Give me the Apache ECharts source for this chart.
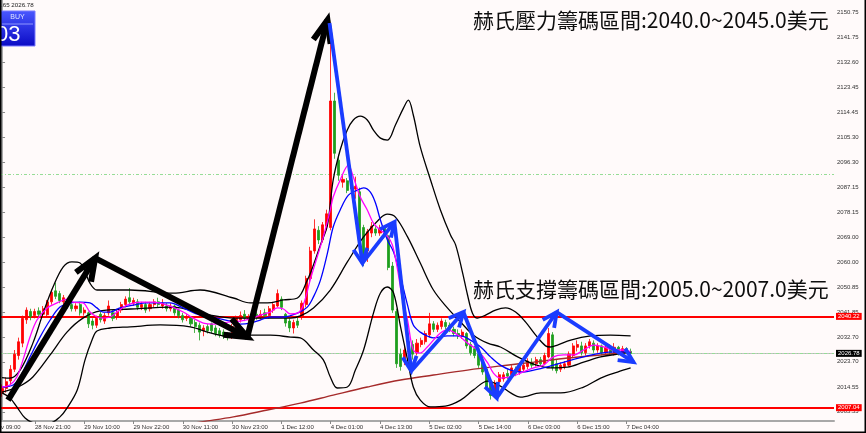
<!DOCTYPE html>
<html>
<head>
<meta charset="utf-8">
<script src="https://cdn.jsdelivr.net/npm/echarts@6/dist/echarts.min.js"></script>
<style>
html,body{margin:0;padding:0;background:#fffafa;}
#chart{width:866px;height:433px;}
</style>
</head>
<body>
<div id="chart"></div>
<script>
// ---- Data ----
const tickLabels = ["28 Nov 21:00","29 Nov 10:00","29 Nov 22:00","30 Nov 11:00","30 Nov 23:00","1 Dec 12:00","4 Dec 01:00","4 Dec 13:00","5 Dec 02:00","5 Dec 14:00","6 Dec 03:00","6 Dec 15:00","7 Dec 04:00"];
const firstTickSlot = 8, tickStep = 12, slotCount = 203;
const priceTicks = [2150.75,2141.75,2132.60,2123.45,2114.45,2105.30,2096.30,2087.15,2078.15,2069.00,2060.00,2050.85,2041.85,2032.70,2023.70,2014.55,2005.55];
const priceMin = 2002.2, priceMax = 2155.2;

// candles: [open, close, low, high]
const candles = [
[2012.5,2014.0,2011.0,2015.5],[2014.0,2016.5,2012.5,2018.0],[2016.8,2021.0,2015.5,2022.5],[2021.0,2026.5,2020.0,2028.0],
[2026.0,2031.0,2024.5,2032.5],[2030.5,2039.5,2029.0,2040.5],[2039.0,2042.5,2037.5,2043.5],[2042.0,2040.2,2038.8,2043.0],
[2040.5,2042.0,2039.5,2043.0],[2042.2,2041.0,2040.0,2043.5],[2041.0,2043.0,2040.0,2044.0],[2040.8,2045.5,2040.0,2046.2],
[2045.5,2049.0,2044.5,2050.0],[2049.5,2047.5,2046.5,2052.5],[2048.5,2046.0,2045.0,2049.5],[2045.5,2047.0,2044.5,2048.0],
[2045.5,2044.0,2043.0,2046.5],[2044.5,2043.0,2042.0,2045.5],[2043.0,2044.0,2042.0,2045.0],[2044.5,2041.5,2040.5,2045.5],
[2041.5,2042.5,2040.5,2043.5],[2041.5,2037.5,2036.0,2042.0],[2038.5,2037.0,2035.5,2039.5],[2037.0,2039.5,2036.0,2040.5],
[2041.0,2039.0,2038.0,2042.0],[2038.5,2040.5,2037.5,2041.5],[2041.5,2044.0,2040.5,2046.0],[2041.5,2039.5,2038.5,2042.5],
[2040.0,2042.0,2039.0,2043.0],[2042.5,2044.5,2041.5,2045.5],[2044.5,2046.5,2043.5,2047.5],[2047.0,2045.5,2044.5,2050.5],
[2045.0,2046.0,2044.0,2047.0],[2045.5,2043.5,2042.5,2046.5],[2043.5,2044.5,2042.5,2045.5],[2044.5,2042.5,2041.5,2045.5],
[2043.0,2044.5,2042.0,2045.5],[2044.5,2045.5,2043.5,2046.5],[2045.5,2044.5,2043.5,2047.0],[2044.0,2045.0,2043.0,2046.5],
[2044.0,2043.0,2042.0,2045.0],[2043.0,2044.0,2042.0,2045.0],[2044.0,2041.5,2040.5,2044.5],[2042.5,2040.5,2039.5,2043.0],
[2040.5,2039.0,2038.0,2041.5],[2039.5,2040.0,2038.5,2041.0],[2039.5,2037.5,2036.5,2040.0],[2038.0,2036.5,2034.2,2039.0],
[2037.0,2034.5,2031.5,2038.0],[2035.0,2036.0,2033.0,2037.0],[2036.5,2035.0,2034.0,2037.5],[2037.5,2035.0,2034.0,2038.0],
[2036.0,2034.0,2033.0,2037.0],[2035.0,2033.5,2032.5,2036.0],[2034.5,2033.0,2032.0,2035.5],[2033.5,2032.5,2031.5,2034.5],
[2033.0,2036.5,2032.0,2037.5],[2036.0,2039.5,2035.5,2040.5],[2039.0,2040.5,2038.0,2042.0],[2041.0,2039.5,2038.5,2042.5],
[2039.0,2040.0,2038.0,2041.0],[2039.5,2040.5,2038.5,2041.5],[2041.0,2040.0,2039.0,2042.0],[2040.0,2041.0,2039.0,2042.5],
[2041.5,2040.5,2039.5,2043.0],[2040.5,2043.0,2039.5,2044.0],[2042.5,2044.5,2041.5,2045.5],[2044.0,2048.5,2043.5,2050.0],
[2046.5,2043.5,2042.5,2047.5],[2041.0,2037.8,2036.5,2041.5],[2038.5,2036.0,2034.5,2039.5],[2036.0,2038.0,2034.0,2039.0],
[2038.5,2037.0,2036.0,2040.0],[2040.0,2045.0,2039.0,2046.0],[2044.5,2054.0,2043.5,2055.0],[2054.0,2064.0,2052.5,2065.5],
[2064.0,2072.0,2063.0,2075.5],[2071.5,2068.0,2066.5,2073.0],[2068.0,2073.5,2067.0,2074.5],[2073.0,2077.5,2071.5,2079.0],
[2072.5,2118.5,2071.5,2147.0],[2118.5,2099.5,2097.5,2121.5],[2097.0,2091.5,2089.5,2099.0],[2089.0,2090.0,2087.0,2092.0],
[2089.5,2086.0,2085.0,2090.5],[2088.0,2086.5,2085.0,2089.5],[2086.5,2087.5,2083.0,2091.0],[2085.5,2068.0,2066.5,2087.0],
[2072.5,2060.0,2058.5,2073.5],[2064.0,2071.0,2060.0,2072.0],[2070.5,2073.0,2069.0,2074.5],[2072.0,2070.5,2069.5,2073.0],
[2070.5,2072.0,2069.5,2073.5],[2072.5,2069.5,2068.5,2073.0],[2069.5,2058.0,2057.0,2070.0],[2058.5,2042.5,2041.5,2060.0],
[2042.0,2023.0,2021.5,2043.0],[2026.5,2022.0,2020.5,2028.5],[2024.0,2028.0,2022.5,2029.5],[2027.5,2031.0,2026.5,2032.5],
[2030.0,2026.5,2024.5,2031.5],[2027.0,2030.5,2026.0,2032.0],[2030.0,2031.5,2029.0,2032.5],[2031.0,2034.0,2030.0,2035.0],
[2033.5,2037.5,2032.5,2041.5],[2037.5,2035.5,2034.5,2038.5],[2035.5,2037.0,2034.5,2038.0],[2036.5,2038.5,2035.5,2039.5],
[2038.0,2036.5,2035.5,2039.0],[2037.0,2035.5,2034.5,2038.0],[2035.5,2034.0,2033.0,2036.5],[2034.0,2033.0,2032.0,2035.5],
[2033.0,2034.5,2032.0,2035.5],[2034.0,2029.5,2028.5,2034.5],[2030.0,2027.0,2026.0,2031.0],[2028.5,2026.0,2025.0,2029.5],
[2026.5,2022.5,2021.5,2027.5],[2023.5,2020.0,2019.0,2024.5],[2021.0,2014.5,2013.5,2022.0],[2016.0,2011.5,2010.0,2017.0],
[2012.5,2016.0,2011.0,2017.0],[2016.5,2019.0,2015.5,2020.0],[2017.5,2019.0,2016.5,2020.0],[2019.5,2018.5,2017.5,2021.0],
[2019.0,2021.5,2018.5,2022.5],[2021.0,2019.5,2018.5,2022.0],[2020.0,2022.5,2019.0,2023.5],[2021.0,2022.5,2020.0,2023.5],
[2022.0,2024.0,2021.0,2025.0],[2023.5,2022.5,2021.5,2025.0],[2023.0,2024.5,2022.0,2025.5],[2024.5,2023.0,2022.0,2025.5],
[2023.0,2026.0,2022.5,2027.0],[2025.5,2034.0,2025.0,2036.0],[2033.5,2021.5,2020.5,2034.5],[2023.0,2020.5,2019.5,2024.5],
[2021.0,2022.5,2020.0,2023.5],[2022.0,2023.0,2021.0,2024.0],[2022.5,2026.5,2022.0,2027.5],[2026.0,2029.5,2025.0,2030.5],
[2029.0,2030.0,2027.5,2031.5],[2029.5,2027.0,2026.0,2031.0],[2027.0,2029.5,2026.0,2030.5],[2029.5,2031.0,2028.5,2032.0],
[2030.5,2028.0,2027.0,2031.5],[2028.0,2029.5,2027.0,2030.5],[2029.5,2027.0,2026.0,2030.0],[2027.0,2029.0,2026.0,2030.0],
[2029.0,2027.0,2026.0,2030.0],[2027.0,2029.0,2026.0,2030.5],[2029.0,2027.0,2026.0,2029.5],[2027.0,2028.5,2026.0,2029.5],
[2028.5,2027.5,2026.5,2029.0],[2027.5,2026.78,2026.0,2028.5]
];

// indicator lines: [bar position, price]
const bbUpper = [[0,2018.0],[1.9,2017.8],[4.4,2020.7],[7.5,2030.5],[10.0,2041.4],[12.4,2050.9],[14.9,2058.2],[17.0,2060.0],[19.0,2059.6],[21.4,2052.3],[23.1,2049.8],[31.2,2049.8],[41.7,2048.7],[48.2,2049.8],[56.3,2046.9],[60.4,2045.1],[64.6,2045.1],[68.5,2046.2],[71.9,2046.9],[74.3,2053.4],[75.8,2058.9],[77.5,2066.2],[79.2,2073.4],[80.6,2089.8],[82.3,2100.7],[84.0,2107.9],[85.5,2111.6],[87.2,2113.0],[88.9,2111.6],[90.4,2107.9],[92.1,2105.0],[93.8,2104.3],[95.75,2109.8],[97.7,2115.9],[98.9,2118.8],[100.1,2113.4],[101.8,2101.8],[104.3,2089.8],[106.7,2078.9],[109.15,2069.8],[110.4,2066.2],[112.1,2056.0],[113.3,2048.0],[114.5,2041.4],[115.7,2039.6],[117.7,2040.7],[120.1,2042.5],[122.55,2043.3],[125.0,2041.8],[127.4,2038.2],[129.9,2033.4],[132.3,2029.5],[133.5,2029.1],[135.2,2029.8],[138.4,2031.6],[143.3,2033.1],[148.1,2033.4],[153.0,2033.1]];
const bbMiddle = [[0,2012.7],[1.9,2013.5],[4.4,2014.9],[7.5,2018.2],[11.7,2026.2],[15.8,2034.5],[19.7,2039.6],[23.9,2042.2],[31.2,2042.9],[41.65,2043.6],[45.8,2042.5],[50.7,2040.7],[56.3,2039.6],[62.85,2039.6],[70.2,2039.6],[72.6,2040.4],[75.8,2043.3],[79.9,2049.8],[84.05,2060.0],[88.0,2069.1],[92.1,2076.0],[93.8,2077.4],[95.75,2076.3],[98.7,2069.1],[101.8,2059.6],[105.0,2049.8],[108.4,2043.3],[111.6,2038.2],[114.75,2033.4],[118.2,2030.5],[121.3,2029.1],[125.5,2025.5],[129.4,2022.9],[133.5,2021.5],[137.65,2021.8],[141.55,2023.6],[145.7,2025.5],[149.8,2026.5],[153.0,2027.3]];
const bbLower = [[0,2012.4],[1.9,2010.6],[3.6,2007.3],[5.6,2003.3],[8.0,2001.5],[11.7,2001.5],[14.1,2003.7],[15.8,2006.9],[18.3,2013.5],[20.2,2024.4],[21.9,2031.6],[23.1,2034.9],[26.3,2036.0],[31.2,2036.4],[38.5,2037.1],[45.8,2036.4],[50.7,2034.2],[56.3,2032.7],[60.4,2033.4],[65.3,2033.4],[70.2,2032.7],[72.6,2032.4],[75.8,2028.0],[78.2,2024.4],[79.9,2018.2],[81.6,2014.2],[84.05,2014.55],[86.0,2020.7],[88.0,2028.0],[90.4,2041.4],[92.1,2048.7],[93.8,2050.9],[95.3,2048.7],[97.0,2036.4],[98.7,2024.4],[100.1,2014.55],[101.8,2009.8],[104.3,2007.3],[107.9,2007.6],[111.6,2009.8],[114.75,2013.5],[118.2,2016.7],[121.3,2014.9],[123.8,2012.4],[126.2,2010.9],[131.1,2012.4],[136.0,2012.4],[141.55,2014.55],[145.7,2017.8],[149.8,2020.0],[153.0,2021.5]];
const maFast = [[0,2014.55],[1.9,2015.3],[3.6,2018.2],[5.1,2024.4],[6.8,2032.7],[8.5,2038.9],[11.0,2043.3],[13.4,2045.1],[15.8,2046.5],[17.3,2045.4],[19.7,2045.1],[21.4,2041.8],[23.1,2040.0],[24.6,2039.6],[26.3,2040.0],[28.0,2041.8],[30.4,2044.3],[33.6,2045.4],[36.8,2045.4],[40.2,2044.3],[44.1,2041.8],[46.5,2039.6],[49.0,2037.8],[51.4,2037.4],[55.5,2038.2],[58.0,2038.5],[60.4,2039.3],[62.85,2040.7],[65.3,2041.8],[67.0,2043.3],[68.5,2042.9],[70.2,2041.1],[71.9,2041.4],[73.3,2044.3],[75.0,2053.4],[76.7,2061.8],[78.2,2069.1],[79.9,2078.9],[80.6,2083.6],[82.3,2089.8],[84.3,2095.2],[85.5,2090.9],[87.2,2083.6],[88.9,2078.9],[90.4,2074.1],[92.1,2071.6],[93.8,2069.4],[95.0,2066.2],[96.2,2057.8],[97.5,2046.2],[98.7,2038.9],[100.1,2028.0],[101.8,2026.9],[103.5,2029.1],[105.0,2031.6],[106.7,2034.2],[108.4,2035.3],[109.9,2034.5],[111.6,2032.7],[113.3,2030.5],[115.7,2028.0],[118.2,2023.3],[119.6,2019.6],[121.3,2017.8],[123.8,2018.2],[126.2,2019.6],[129.4,2021.5],[131.8,2022.5],[134.2,2025.5],[136.7,2026.2],[139.1,2026.2],[141.55,2028.0],[144.0,2029.8],[146.4,2029.1],[148.9,2028.0],[151.3,2028.0],[153.0,2027.3]];
const maMid = [[0,2014.55],[2.7,2015.3],[4.4,2018.2],[6.8,2025.5],[9.25,2032.7],[11.7,2038.9],[14.1,2043.6],[16.6,2045.1],[19.0,2045.4],[21.4,2045.1],[23.1,2043.3],[24.6,2041.8],[26.3,2041.8],[28.7,2043.3],[31.9,2044.3],[35.3,2045.1],[40.9,2045.1],[44.1,2043.3],[48.2,2040.7],[52.4,2039.6],[56.3,2038.2],[58.0,2037.4],[60.4,2037.8],[62.85,2038.9],[65.3,2040.0],[68.5,2040.0],[71.9,2041.4],[74.3,2043.6],[75.8,2047.3],[77.5,2053.4],[79.2,2063.2],[80.6,2072.7],[82.3,2078.9],[84.3,2084.3],[86.5,2086.1],[88.0,2086.9],[89.65,2085.4],[90.9,2081.4],[92.1,2075.2],[93.8,2068.0],[95.3,2063.6],[97.0,2054.5],[98.7,2044.3],[100.1,2037.1],[101.8,2034.5],[103.5,2033.1],[105.0,2032.4],[108.4,2033.1],[111.6,2033.1],[114.0,2031.6],[116.5,2029.1],[118.9,2025.5],[121.3,2022.5],[123.8,2020.7],[126.2,2020.0],[129.4,2020.7],[133.5,2022.2],[137.65,2024.0],[141.55,2025.5],[145.7,2026.9],[149.8,2027.3],[153.0,2027.3]];
const maLong = [[45.8,2001.1],[48.2,2001.8],[56.3,2003.7],[64.6,2006.2],[72.6,2008.7],[80.6,2011.6],[88.9,2014.55],[97.0,2017.1],[105.0,2018.9],[113.3,2020.7],[121.3,2022.2],[129.4,2023.6],[137.65,2025.1],[145.7,2026.2],[153.0,2027.3]];

// arrows: [from bar, from price, to bar, to price]
const blackArrows = [[1.45,2009.8,22.65,2061.4],[22.65,2061.4,59.7,2032.7],[59.7,2032.7,79.2,2147.9]];
const blueArrows = [[79.7,2146.8,87.7,2059.6],[87.7,2059.6,95.5,2074.5],[95.5,2074.5,99.6,2020.4],[99.6,2020.4,112.3,2041.8],[112.3,2041.8,120.4,2010.6],[120.4,2010.6,135.0,2041.8],[135.0,2041.8,153.7,2023.6]];

// price levels
const resistanceLevel = 2040.22, supportLevel = 2007.04, bidLevel = 2026.78, dashLevel = 2092.0;
const noteResistance = "赫氏壓力籌碼區間:2040.0~2045.0美元";
const noteSupport = "赫氏支撐籌碼區間:2005.0~2007.0美元";
const cornerQuote = ".65 2026.78";

// ---- Build chart ----
const slots = [];
const slotLabel = {};
for (let i = 0; i < slotCount; i++) {
  slots.push(String(i));
  const k = (i - firstTickSlot) / tickStep;
  if (Number.isInteger(k) && k >= 0 && k < tickLabels.length) slotLabel[i] = tickLabels[k];
}

function arrowRenderer(color, width, head, spread) {
  return function (params, api) {
    const a = api.coord([api.value(0), api.value(1)]);
    const b = api.coord([api.value(2), api.value(3)]);
    const ang = Math.atan2(b[1] - a[1], b[0] - a[0]);
    const w1 = [b[0] - head * Math.cos(ang - spread), b[1] - head * Math.sin(ang - spread)];
    const w2 = [b[0] - head * Math.cos(ang + spread), b[1] - head * Math.sin(ang + spread)];
    return {
      type: 'group',
      children: [
        { type: 'polyline', shape: { points: [a, b] }, style: { stroke: color, lineWidth: width, fill: null, lineCap: 'butt' } },
        { type: 'polyline', shape: { points: [w1, b, w2] }, style: { stroke: color, lineWidth: width, fill: null, lineJoin: 'miter' } }
      ]
    };
  };
}

function indicator(name, data, color, width) {
  return {
    name: name, type: 'line', xAxisIndex: 1, yAxisIndex: 0, data: data,
    smooth: 0.35, showSymbol: false, symbol: 'none', z: 4, silent: true,
    lineStyle: { color: color, width: width }
  };
}

const font = 'Liberation Sans, Arial, sans-serif';
const chart = echarts.init(document.getElementById('chart'), null, { renderer: 'canvas' });
chart.setOption({
  animation: false,
  backgroundColor: '#fffafa',
  grid: { left: 0, right: 32, top: 0, bottom: 12 },
  xAxis: [
    {
      type: 'category', data: slots, boundaryGap: true,
      axisLine: { lineStyle: { color: '#a8a8a8', width: 2 } },
      axisTick: { show: true, alignWithLabel: true, length: 3, lineStyle: { color: '#888' }, interval: function (i) { return slotLabel[i] !== undefined; } },
      axisLabel: { interval: function (i) { return slotLabel[i] !== undefined; }, formatter: function (v, i) { return slotLabel[i] || ''; }, align: 'left', margin: 3, fontSize: 6, color: '#333', fontFamily: font },
      splitLine: { show: false }
    },
    { type: 'value', min: -0.5, max: slotCount - 0.5, show: false }
  ],
  yAxis: [{
    type: 'value', position: 'right', min: priceMin, max: priceMax, scale: true,
    axisLine: { show: true, lineStyle: { color: '#a8a8a8', width: 2 } },
    axisTick: { show: true, length: 3, lineStyle: { color: '#888' }, customValues: priceTicks },
    axisLabel: { customValues: priceTicks, formatter: function (v) { return v.toFixed(2); }, margin: 3, fontSize: 6, color: '#333', fontFamily: font, align: 'left' },
    splitLine: { show: false }
  }],
  series: [
    {
      name: 'XAUUSD', type: 'candlestick', xAxisIndex: 0, yAxisIndex: 0, data: candles,
      barWidth: 2.6, z: 3,
      itemStyle: { color: '#ff0000', color0: '#1e9e1e', borderColor: '#ff0000', borderColor0: '#1e9e1e', borderWidth: 0.8 },
      markLine: {
        silent: true, symbol: ['none', 'none'], z: 2,
        data: [
          { yAxis: dashLevel, lineStyle: { color: '#96dc96', width: 1, type: [3, 2, 1, 2] }, label: { show: false } },
          { yAxis: bidLevel, lineStyle: { color: '#c0c0c0', width: 1, type: 'solid' },
            label: { show: true, position: 'end', formatter: bidLevel.toFixed(2), color: '#fff', backgroundColor: '#000', padding: [1, 2, 0, 2], fontSize: 6, fontFamily: font, distance: 2 } },
          { yAxis: bidLevel, lineStyle: { color: '#96dc96', width: 1, type: [3, 2, 1, 2] }, label: { show: false } },
          { yAxis: resistanceLevel, lineStyle: { color: '#ff0000', width: 2, type: 'solid' },
            label: { show: true, position: 'end', formatter: resistanceLevel.toFixed(2), color: '#fff', backgroundColor: '#ff0000', padding: [1, 2, 0, 2], fontSize: 6, fontFamily: font, distance: 2 } },
          { yAxis: supportLevel, lineStyle: { color: '#ff0000', width: 2, type: 'solid' },
            label: { show: true, position: 'end', formatter: supportLevel.toFixed(2), color: '#fff', backgroundColor: '#ff0000', padding: [1, 2, 0, 2], fontSize: 6, fontFamily: font, distance: 2 } }
        ]
      }
    },
    indicator('maLong', maLong, '#a52a2a', 1.4),
    indicator('bbUpper', bbUpper, '#000000', 1.3),
    indicator('bbMiddle', bbMiddle, '#000000', 1.3),
    indicator('bbLower', bbLower, '#000000', 1.3),
    indicator('maMid', maMid, '#0000ff', 1.3),
    indicator('maFast', maFast, '#ff00ff', 1.3),
    {
      name: 'blackArrows', type: 'custom', xAxisIndex: 1, yAxisIndex: 0, data: blackArrows, z: 6, silent: true,
      encode: { x: [0, 2], y: [1, 3] }, renderItem: arrowRenderer('#000000', 6, 24, 0.38)
    },
    {
      name: 'blueArrows', type: 'custom', xAxisIndex: 1, yAxisIndex: 0, data: blueArrows, z: 7, silent: true,
      encode: { x: [0, 2], y: [1, 3] }, renderItem: arrowRenderer('#1a3cff', 3.8, 16, 0.45)
    }
  ],
  graphic: [
    { type: 'text', left: 473, top: 10, z: 20, style: { text: noteResistance, fontSize: 21, fontFamily: 'Noto Sans CJK TC', fill: '#0e0e0e' } },
    { type: 'text', left: 473, top: 279, z: 20, style: { text: noteSupport, fontSize: 21, fontFamily: 'Noto Sans CJK TC', fill: '#0e0e0e' } },
    { type: 'text', left: 1, top: 2, z: 20, style: { text: cornerQuote, fontSize: 6.2, fontFamily: font, fill: '#222' } },
    { type: 'rect', shape: { x: 0, y: 11, width: 35, height: 35 }, z: 20,
      style: { fill: new echarts.graphic.LinearGradient(0, 0, 0, 1, [{ offset: 0, color: '#4a58ff' }, { offset: 1, color: '#0a0ac4' }]), stroke: '#7a7aff', lineWidth: 1 } },
    { type: 'line', shape: { x1: 2, y1: 24, x2: 33, y2: 24 }, z: 21, style: { stroke: '#8f96ff', lineWidth: 1 } },
    { type: 'text', x: 17.5, y: 17.5, z: 21, style: { text: 'BUY', fontSize: 7, fontFamily: font, fill: '#dfe3ff', align: 'center', verticalAlign: 'middle' } },
    { type: 'text', x: -4, y: 35, z: 21, style: { text: '03', fontSize: 22, fontFamily: font, fill: '#ffffff', verticalAlign: 'middle' } },
    { type: 'text', x: 1, y: 427.5, z: 20, style: { text: 'v 09:00', fontSize: 6, fontFamily: font, fill: '#333', verticalAlign: 'middle' } },
    { type: 'line', shape: { x1: 0.75, y1: 0, x2: 0.75, y2: 433 }, z: 30, style: { stroke: '#000', lineWidth: 1.5 } },
    { type: 'line', shape: { x1: 0, y1: 432.25, x2: 866, y2: 432.25 }, z: 30, style: { stroke: '#000', lineWidth: 1.5 } },
    { type: 'line', shape: { x1: 865.25, y1: 0, x2: 865.25, y2: 433 }, z: 30, style: { stroke: '#000', lineWidth: 1.5 } }
  ]
});
</script>
</body>
</html>
